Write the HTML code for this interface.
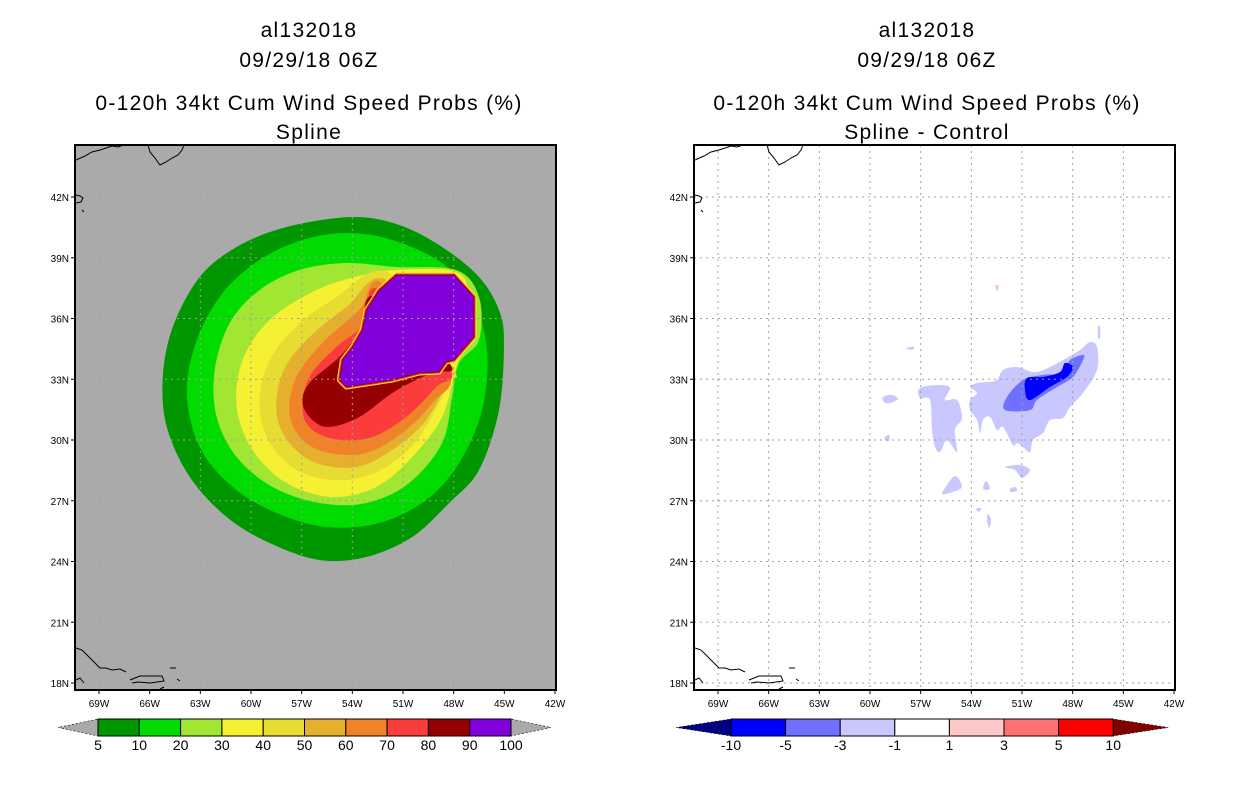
<!DOCTYPE html>
<html><head><meta charset="utf-8">
<style>
body{margin:0;background:#fff;width:1236px;height:800px;overflow:hidden;font-family:"Liberation Sans",sans-serif}
svg{position:absolute;left:0;top:0}
</style></head>
<body>
<svg id="s" width="1236" height="800"></svg>
<script>
// ---- data ----
const lonTicks=[69,66,63,60,57,54,51,48,45,42];
const latTicks=[42,39,36,33,30,27,24,21,18];
const leftLevels=["5","10","20","30","40","50","60","70","80","90","100"];
const leftColors=["#009600","#00dc00","#a0e632","#f5f032","#e6dc32","#e6af2d","#f08228","#fa3c3c","#960000","#8200dc"];
const rightLevels=["-10","-5","-3","-1","1","3","5","10"];
const rightColors=["#0000ff","#7070ff","#c8c8ff","#ffffff","#ffc8c8","#ff7070","#ff0000"];
// contour polygons, pixel-estimated then as [lonW, latN]
function P(arr){return arr.map(p=>[69-(p[0]-99)*0.05906,42-(p[1]-197)*0.04938]);}
const cont5=P([[353,217],[400,225],[443,247],[480,277],[500,310],[505,343],[500,410],[480,470],[450,503],[413,537],[367,557],[320,560],[270,543],[227,517],[190,477],[167,427],[163,377],[173,327],[200,277],[237,247],[287,227]]);
const cont10=P([[347,233],[393,240],[443,263],[473,297],[488,350],[483,410],[460,463],[427,500],[380,523],[327,527],[277,513],[233,487],[200,447],[187,393],[197,340],[223,293],[260,260],[303,240]]);
const cont20=P([[397,267],[457,270],[480,297],[480,340],[460,363],[453,397],[443,443],[410,483],[367,503],[320,503],[273,487],[237,457],[217,417],[215,370],[230,323],[260,290],[300,270],[347,263]]);
const cont30=P([[397,270],[457,272],[470,300],[465,345],[457,367],[443,417],[413,457],[377,487],[333,497],[287,483],[253,450],[237,407],[243,360],[270,320],[317,290],[360,276]]);
const cont40=P([[390,273],[333,300],[293,330],[267,367],[260,410],[273,447],[303,473],[347,480],[387,467],[420,437],[450,383],[453,367]]);
const cont50=P([[387,280],[347,307],[307,340],[283,373],[277,413],[290,443],[317,463],[357,467],[393,450],[427,420],[450,377],[450,367]]);
const cont60=P([[383,283],[360,310],[323,343],[297,377],[290,413],[303,440],[330,453],[367,453],[403,433],[433,403],[450,370]]);
const cont70=P([[380,290],[367,313],[363,327],[337,347],[310,377],[303,410],[313,430],[340,440],[373,437],[407,417],[437,387],[450,368]]);
const cont80=P([[377,297],[363,323],[360,333],[340,357],[310,383],[303,403],[313,420],[330,427],[360,417],[393,393],[423,377],[440,372],[450,363]]);
const cont90=P([[397,275],[455,275],[475,297],[475,337],[455,360],[447,362],[440,372],[420,373],[393,380],[347,387],[340,380],[343,360],[353,347],[363,330],[367,310],[380,290]]);
function Q(arr){return arr.map(p=>[69-(p[0]-718)*0.05921,42-(p[1]-197)*0.04938]);}
const diffLight=[
Q([[1003,370],[1017,367],[1037,372],[1063,360],[1080,350],[1090,342],[1097,347],[1097,370],[1083,393],[1070,407],[1063,418],[1050,420],[1043,433],[1033,440],[1030,452],[1023,447],[1017,443],[1013,445],[1003,427],[997,430],[990,417],[983,420],[980,433],[977,420],[970,410],[970,400],[977,393],[970,387],[977,383],[987,382],[997,380]]),
Q([[920,388],[940,385],[950,388],[945,400],[957,400],[962,418],[955,430],[957,452],[947,440],[940,452],[935,447],[932,430],[930,400],[920,398]]),
Q([[883,397],[892,395],[898,399],[890,403],[884,402]]),
Q([[1005,467],[1020,465],[1030,470],[1022,478],[1015,470]]),
Q([[945,488],[955,476],[962,487],[950,493],[942,494]]),
Q([[986,481],[990,488],[986,490],[983,488]]),
Q([[1010,489],[1015,487],[1017,491],[1011,492]]),
Q([[988,514],[991,520],[989,528],[987,520]]),
Q([[976,509],[981,508],[979,512]]),
Q([[906,348],[914,347],[912,350]]),
Q([[885,437],[889,435],[889,441],[885,440]]),
Q([[1098,327],[1100,327],[1100,338],[1098,338]])];
const diffMid=Q([[1005,410],[1007,397],[1023,380],[1043,375],[1063,373],[1070,360],[1083,355],[1083,360],[1073,377],[1057,387],[1037,400],[1030,410]]);
const diffDark=Q([[1027,378],[1043,377],[1060,372],[1065,363],[1073,367],[1067,377],[1050,387],[1030,400],[1025,390]]);
const diffPink=Q([[995,285],[999,285],[998,291],[996,290]]);

// ---- drawing ----
const NS='http://www.w3.org/2000/svg', svg=document.getElementById('s');
function el(t,a,parent,txt){const e=document.createElementNS(NS,t);for(const k in a)e.setAttribute(k,a[k]);if(txt!==undefined)e.textContent=txt;(parent||svg).appendChild(e);return e;}
function panel(x0){
  const x1=x0+481, y0=145, y1=690;
  const lx0=x0+24;
  return {x:w=>lx0+(69-w)*(456/27), y:n=>197+(42-n)*(486/24), x0,x1,y0,y1};
}
function smoothPath(pts){
  const n=pts.length;let d='M'+pts[0][0].toFixed(1)+','+pts[0][1].toFixed(1);
  for(let i=0;i<n;i++){
    const p0=pts[(i-1+n)%n],p1=pts[i],p2=pts[(i+1)%n],p3=pts[(i+2)%n];
    const c1=[p1[0]+(p2[0]-p0[0])/6,p1[1]+(p2[1]-p0[1])/6];
    const c2=[p2[0]-(p3[0]-p1[0])/6,p2[1]-(p3[1]-p1[1])/6];
    d+=` C${c1[0].toFixed(1)},${c1[1].toFixed(1)} ${c2[0].toFixed(1)},${c2[1].toFixed(1)} ${p2[0].toFixed(1)},${p2[1].toFixed(1)}`;
  }
  return d+'Z';
}
function poly(ax,pts,fill,g,name,extra,smooth){
  const px=pts.map(p=>[ax.x(p[0]),ax.y(p[1])]);
  let e;
  if(smooth) e=el('path',Object.assign({d:smoothPath(px),fill:fill},extra||{}),g);
  else e=el('polygon',Object.assign({points:px.map(p=>p[0].toFixed(1)+','+p[1].toFixed(1)).join(' '),fill:fill},extra||{}),g);
  
  
  return e;
}
function titles(cx,sub){
  const a=[["al132018",37],["09/29/18 06Z",67],["0-120h 34kt Cum Wind Speed Probs (%)",110],[sub,139]];
  a.forEach((t,i)=>{const e=el('text',{x:cx,y:t[1],'text-anchor':'middle','font-size':21,fill:'#000','letter-spacing':'1.3'},svg,t[0]);
    
    });
}
function axes(ax){
  const g=el('g',{});
  
  
  lonTicks.forEach(w=>{
    const x=ax.x(w);
    if(x>ax.x0+2&&x<ax.x1-2) el('line',{x1:x,y1:ax.y0,x2:x,y2:ax.y1,stroke:'#a0a0a0','stroke-dasharray':'2,4','stroke-width':1},g);
    el('line',{x1:x,y1:ax.y1,x2:x,y2:ax.y1+4,stroke:'#000'},g);
    const t=el('text',{x:x,y:ax.y1+17,'text-anchor':'middle','font-size':10,fill:'#000'},g,w+'W');
    
    
  });
  latTicks.forEach(n=>{
    const y=ax.y(n);
    el('line',{x1:ax.x0,y1:y,x2:ax.x1,y2:y,stroke:'#a0a0a0','stroke-dasharray':'2,4','stroke-width':1},g);
    el('line',{x1:ax.x0-4,y1:y,x2:ax.x0,y2:y,stroke:'#000'},g);
    const t=el('text',{x:ax.x0-6,y:y+4,'text-anchor':'end','font-size':10,fill:'#000'},g,n+'N');
    
    
  });
  const dx=ax.x0-75;
  const c=[ "M76,160 L85,156 L92,152 L100,150 L106,148 L112,146 L118,147 L124,145 L128,145",
    "M148,145 L150,152 L155,158 L160,165 L166,162 L172,158 L178,155 L182,150 L184,145",
    "M76,195 L80,196 L83,198 L81,202 L76,203 M82,210 L84,212",
    "M76,648 L82,650 L88,656 L94,662 L100,668 L106,668 L112,670 L120,669 L126,672",
    "M76,680 L80,678 L84,683 M130,680 L140,676 L152,676 L162,676 L164,681 L150,683 L138,682 L132,683",
    "M170,668 L176,668 M177,679 L180,681 M160,689 L164,687"];
  c.forEach(d=>{const p=el('path',{d:d,fill:'none',stroke:'#000','stroke-width':1,transform:`translate(${dx},0)`},g);
    
    });
  const b=el('rect',{x:ax.x0,y:ax.y0,width:ax.x1-ax.x0,height:ax.y1-ax.y0,fill:'none',stroke:'#000','stroke-width':2},g);
  
  
}

// left panel
const L=panel(75);
titles(309,"Spline");
const bgL=el('rect',{x:L.x0,y:L.y0,width:481,height:545,fill:'#aaaaaa'});


const gL=el('g',{});


[cont5,cont10,cont20,cont30,cont40,cont50,cont60,cont70,cont80].forEach((c,i)=>poly(L,c,leftColors[i],gL,'contour-'+leftLevels[i],null,true));
poly(L,cont90,leftColors[9],gL,'contour-edge-outer',{stroke:'#f5f032','stroke-width':5,'stroke-linejoin':'round'});
poly(L,cont90,leftColors[9],gL,'contour-edge-inner',{stroke:'#fa3c3c','stroke-width':3,'stroke-linejoin':'round'});
poly(L,cont90,leftColors[9],gL,'contour-90',{stroke:'#960000','stroke-width':1});
axes(L);

// right panel
const R=panel(694);
titles(927,"Spline - Control");
const bgR=el('rect',{x:R.x0,y:R.y0,width:481,height:545,fill:'#ffffff'});


const gR=el('g',{});


diffLight.forEach(c=>poly(R,c,rightColors[2],gR,'diff-contour-minus1',null,true));
poly(R,diffMid,rightColors[1],gR,'diff-contour-minus3',null,true);
poly(R,diffDark,rightColors[0],gR,'diff-contour-minus5',null,true);
poly(R,diffPink,rightColors[4],gR,'diff-contour-plus1');
axes(R);

// colorbars
function colorbar(x0,w,n,colors,labels,leftTri,rightTri,name,triLen){
  const g=el('g',{});
  
  
  const y=719,h=17;
  el('polygon',{points:`${x0},${y} ${x0},${y+h} ${x0-triLen},${y+h/2}`,fill:leftTri,stroke:'#000','stroke-width':0.6,'stroke-dasharray':'2,2'},g);
  el('polygon',{points:`${x0+n*w},${y} ${x0+n*w},${y+h} ${x0+n*w+triLen},${y+h/2}`,fill:rightTri,stroke:'#000','stroke-width':0.6,'stroke-dasharray':'2,2'},g);
  colors.forEach((c,i)=>{const r=el('rect',{x:x0+i*w,y:y,width:w,height:h,fill:c,stroke:'#000','stroke-width':1},g);
    
    });
  labels.forEach((t,i)=>{const e=el('text',{x:x0+i*w,y:y+h+14,'text-anchor':'middle','font-size':14,fill:'#000'},g,t);
    
    });
}
colorbar(98,41.3,10,leftColors,leftLevels,'#aaaaaa','#aaaaaa','probability-colorbar',40);
colorbar(731,54.6,7,rightColors,rightLevels,'#000080','#800000','difference-colorbar',55);
</script>
</body></html>
